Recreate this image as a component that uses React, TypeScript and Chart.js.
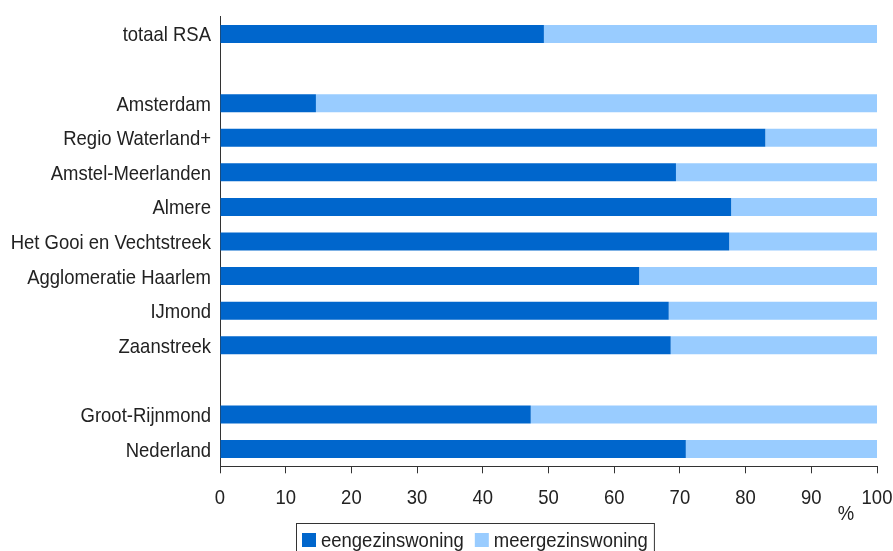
import React, { useEffect, useRef } from "react";
import { Chart, registerables } from "chart.js";

Chart.register(...registerables);

// Regions (blank entries leave a gap between the groups)
const regions = [
  "totaal RSA",
  " ",
  "Amsterdam",
  "Regio Waterland+",
  "Amstel-Meerlanden",
  "Almere",
  "Het Gooi en Vechtstreek",
  "Agglomeratie Haarlem",
  "IJmond",
  "Zaanstreek",
  "  ",
  "Groot-Rijnmond",
  "Nederland",
];

// Share of single-family dwellings (%)
const eengezinswoning = [49.3, null, 14.6, 83.0, 69.4, 77.8, 77.5, 63.8, 68.3, 68.6, null, 47.3, 70.9];
// Share of multi-family dwellings (%)
const meergezinswoning = [50.7, null, 85.4, 17.0, 30.6, 22.2, 22.5, 36.2, 31.7, 31.4, null, 52.7, 29.1];

const seriesLabels = ["eengezinswoning", "meergezinswoning"];
const seriesColors = ["#0066CC", "#99CCFF"];
const xTickValues = [0, 10, 20, 30, 40, 50, 60, 70, 80, 90, 100];
const unitLabel = "%";

const FONT = "'Liberation Sans', Arial, sans-serif";
const FONT_SIZE = 21;
const CONDENSE = 0.88; // narrow sans look
const TEXT = "#222222";
const AXIS = "#333333";

// Draw condensed text: (x, y) is the anchor on the alphabetic baseline
function condensedText(
  ctx: CanvasRenderingContext2D,
  text: string,
  x: number,
  y: number,
  align: CanvasTextAlign
) {
  ctx.save();
  ctx.font = `${FONT_SIZE}px ${FONT}`;
  ctx.fillStyle = TEXT;
  ctx.textAlign = align;
  ctx.textBaseline = "alphabetic";
  ctx.translate(x, y);
  ctx.scale(CONDENSE, 1);
  ctx.fillText(text, 0, 0);
  ctx.restore();
}

function condensedWidth(ctx: CanvasRenderingContext2D, text: string) {
  ctx.save();
  ctx.font = `${FONT_SIZE}px ${FONT}`;
  const w = ctx.measureText(text).width * CONDENSE;
  ctx.restore();
  return w;
}

// Axis labels, unit label and boxed legend
const decorations = {
  id: "decorations",
  afterDraw(chart: any) {
    const ctx = chart.ctx as CanvasRenderingContext2D;
    const xs = chart.scales.x;
    const ys = chart.scales.y;

    // category labels
    regions.forEach((label, i) => {
      if (!label.trim()) return;
      const py = ys.getPixelForValue(i);
      condensedText(ctx, label, ys.right - 9, py + 7.5, "right");
    });

    // value labels
    xTickValues.forEach((v) => {
      condensedText(ctx, String(v), xs.getPixelForValue(v), xs.top + 38, "center");
    });

    condensedText(ctx, unitLabel, 846, 520, "center");

    // legend
    const left = 296;
    const top = 523;
    const pad = 6;
    const sq = 14;
    const gap = 5;
    const itemGap = 11;
    let x = left + pad;
    const base = 547;
    seriesLabels.forEach((label, i) => {
      ctx.fillStyle = seriesColors[i];
      ctx.fillRect(x, base - sq, sq, sq);
      x += sq + gap;
      condensedText(ctx, label, x, base, "left");
      x += condensedWidth(ctx, label) + itemGap;
    });
    const right = x - itemGap + pad;
    ctx.save();
    ctx.strokeStyle = AXIS;
    ctx.lineWidth = 1;
    ctx.strokeRect(left + 0.5, top + 0.5, right - left, 40);
    ctx.restore();
  },
};

export default function App() {
  const canvasRef = useRef<HTMLCanvasElement | null>(null);

  useEffect(() => {
    if (!canvasRef.current) return;
    const chart = new Chart(canvasRef.current, {
      type: "bar",
      data: {
        labels: regions,
        datasets: [
          {
            label: seriesLabels[0],
            data: eengezinswoning,
            backgroundColor: seriesColors[0],
            borderWidth: 0,
          },
          {
            label: seriesLabels[1],
            data: meergezinswoning,
            backgroundColor: seriesColors[1],
            borderWidth: 0,
          },
        ],
      },
      options: {
        indexAxis: "y",
        animation: false,
        responsive: false,
        devicePixelRatio: 1,
        datasets: {
          bar: { categoryPercentage: 1, barPercentage: 0.52 },
        },
        layout: { padding: { top: 16.7, right: 16, left: 0, bottom: 0 } },
        plugins: {
          legend: { display: false },
          tooltip: { enabled: false },
        },
        scales: {
          x: {
            stacked: true,
            min: 0,
            max: 100,
            afterBuildTicks(scale: any) {
              scale.ticks = xTickValues.map((v) => ({ value: v }));
            },
            afterFit(scale: any) {
              scale.height = 84.7;
              scale.paddingLeft = 0;
              scale.paddingRight = 0;
            },
            grid: {
              drawOnChartArea: false,
              drawTicks: true,
              tickLength: 7,
              color: AXIS,
            },
            border: { display: true, color: AXIS, width: 1 },
            ticks: { display: false },
          },
          y: {
            stacked: true,
            afterFit(scale: any) {
              scale.width = 220;
              scale.paddingTop = 0;
              scale.paddingBottom = 0;
            },
            grid: { display: false, drawTicks: false },
            border: { display: true, color: AXIS, width: 1 },
            ticks: { display: false },
          },
        },
      },
      plugins: [decorations],
    });
    return () => chart.destroy();
  }, []);

  return (
    <div style={{ position: "fixed", left: 0, top: 0, width: 893, height: 551, background: "#fff" }}>
      <canvas ref={canvasRef} width={893} height={551} />
    </div>
  );
}
